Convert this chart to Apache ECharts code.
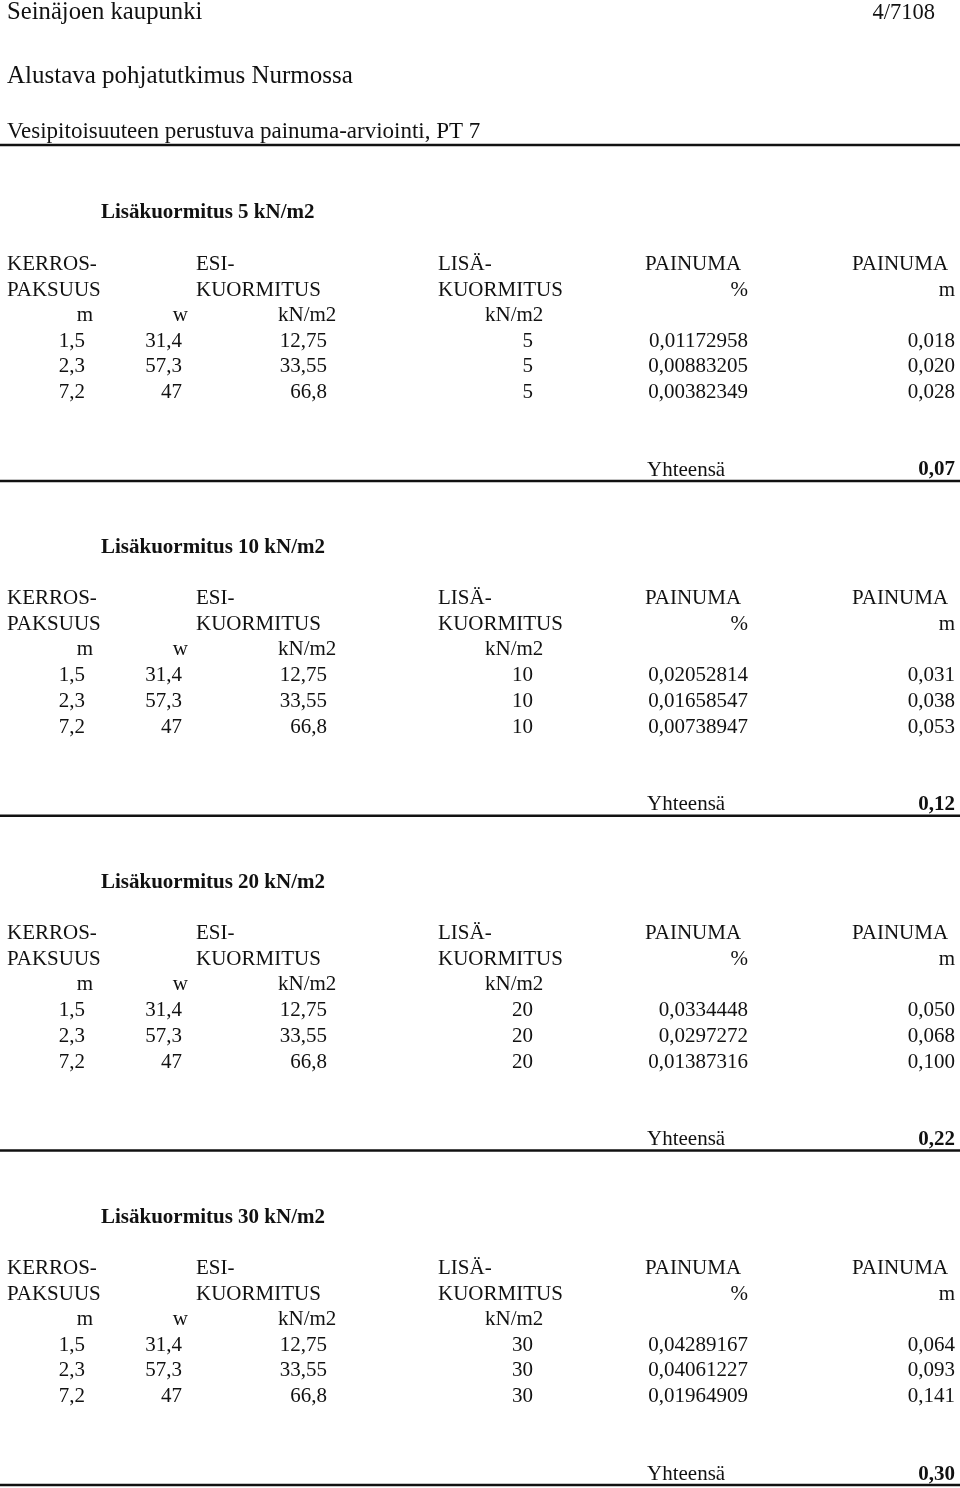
<!DOCTYPE html>
<html><head><meta charset="utf-8">
<script src="https://cdn.jsdelivr.net/npm/echarts@6/dist/echarts.min.js"></script>
<style>html,body{margin:0;padding:0;background:#fff}#c{width:960px;height:1488px}</style>
</head><body><div id="c"></div>
<script>
// ---- data ----
const docTitle = 'Seinäjoen kaupunki';
const pageNo = '4/7108';
const subTitle1 = 'Alustava pohjatutkimus Nurmossa';
const subTitle2 = 'Vesipitoisuuteen perustuva painuma-arviointi, PT 7';
const loads = [5, 10, 20, 30];
const thickness = [1.5, 2.3, 7.2];
const waterContent = [31.4, 57.3, 47];
const preload = [12.75, 33.55, 66.8];
const settlePct = [
  [0.01172958, 0.00883205, 0.00382349],
  [0.02052814, 0.01658547, 0.00738947],
  [0.0334448, 0.0297272, 0.01387316],
  [0.04289167, 0.04061227, 0.01964909]
];
const settleM = [
  [0.018, 0.020, 0.028],
  [0.031, 0.038, 0.053],
  [0.050, 0.068, 0.100],
  [0.064, 0.093, 0.141]
];
const totals = [0.07, 0.12, 0.22, 0.30];
const header1 = ['KERROS-', 'ESI-', 'LISÄ-', 'PAINUMA', 'PAINUMA'];
const header2 = ['PAKSUUS', 'KUORMITUS', 'KUORMITUS', '%', 'm'];
const units = ['m', 'w', 'kN/m2', 'kN/m2'];
const totalLabel = 'Yhteensä';

// ---- layout ----
const W = 960, H = 1488;
const FONT = '"Liberation Serif","Times New Roman",serif';
const FS = 21;
const DY = 2;
const fi = (v) => String(v).replace('.', ',');
const fx = (v, d) => v.toFixed(d).replace('.', ',');

const items = []; // {x,y,text,align,bold,size}
const rules = []; // {x1,x2,y,w}
function T(x, y, text, align, bold, size) { items.push({ x, y: y + DY, text, align: align || 'left', bold: !!bold, size: size || FS }); }

T(7, 11, docTitle, 'left', false, 24.7);
T(935, 11, pageNo, 'right', false, 22.5);
T(7, 74, subTitle1, 'left', false, 25);
T(7, 130, subTitle2, 'left', false, 23);
rules.push({ x1: 0, x2: 960, y: 145, w: 2.5 });

const secBase = 211, secStep = 334.7;
loads.forEach((ld, s) => {
  const b = secBase + s * secStep;
  T(101, b, 'Lisäkuormitus ' + ld + ' kN/m2', 'left', true);
  T(7, b + 51, header1[0]); T(196, b + 51, header1[1]); T(438, b + 51, header1[2]);
  T(645, b + 51, header1[3]); T(852, b + 51, header1[4]);
  T(7, b + 77, header2[0]); T(196, b + 77, header2[1]); T(438, b + 77, header2[2]);
  T(748, b + 77, header2[3], 'right'); T(955, b + 77, header2[4], 'right');
  T(93, b + 102, units[0], 'right'); T(188, b + 102, units[1], 'right');
  T(278, b + 102, units[2]); T(485, b + 102, units[3]);
  for (let r = 0; r < 3; r++) {
    const y = b + 128 + r * 25.8;
    T(85, y, fx(thickness[r], 1), 'right');
    T(182, y, fi(waterContent[r]), 'right');
    T(327, y, fi(preload[r]), 'right');
    T(533, y, String(ld), 'right');
    T(748, y, fi(settlePct[s][r]), 'right');
    T(955, y, fx(settleM[s][r], 3), 'right');
  }
  T(647, b + 257, totalLabel);
  T(955, b + 257, fx(totals[s], 2), 'right', true);
  rules.push({ x1: 0, x2: 960, y: b + 270, w: 2.5 });
});

const chart = echarts.init(document.getElementById('c'), null, { renderer: 'canvas' });
chart.setOption({
  backgroundColor: '#fff',
  animation: false,
  grid: { left: 0, right: 0, top: 0, bottom: 0 },
  xAxis: { type: 'value', min: 0, max: W, show: false },
  yAxis: { type: 'value', min: 0, max: H, inverse: true, show: false },
  series: [
    {
      type: 'custom',
      silent: true,
      data: rules.map(r => [r.x1, r.y, r.x2]),
      renderItem: (params, api) => {
        const r = rules[params.dataIndex];
        const p1 = api.coord([r.x1, r.y]);
        const p2 = api.coord([r.x2, r.y]);
        return { type: 'line', shape: { x1: p1[0], y1: p1[1], x2: p2[0], y2: p2[1] }, style: { stroke: '#111', lineWidth: r.w } };
      }
    },
    {
      type: 'custom',
      silent: true,
      data: items.map(it => [it.x, it.y]),
      renderItem: (params, api) => {
        const it = items[params.dataIndex];
        const p = api.coord([it.x, it.y]);
        return {
          type: 'text', x: p[0], y: p[1],
          style: {
            text: it.text, fill: '#111',
            font: (it.bold ? 'bold ' : '') + it.size + 'px ' + FONT,
            align: it.align, verticalAlign: 'middle'
          }
        };
      }
    }
  ]
});
</script></body></html>
